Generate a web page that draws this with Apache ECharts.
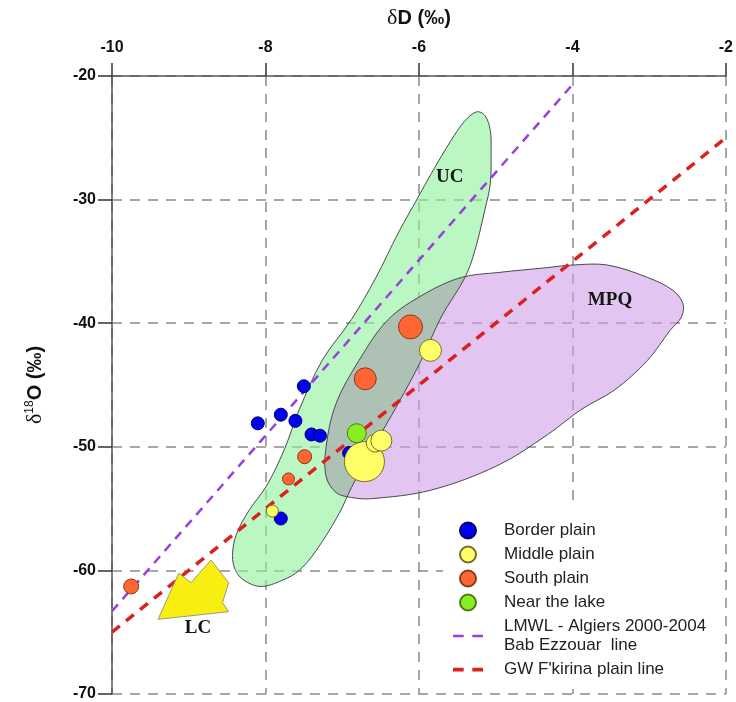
<!DOCTYPE html>
<html>
<head>
<meta charset="utf-8">
<script src="https://cdn.jsdelivr.net/npm/echarts@6/dist/echarts.min.js"></script>
<style>
  html, body { margin: 0; padding: 0; background: #fff; }
  #chart { width: 736px; height: 702px; }
</style>
</head>
<body>
<div id="chart"></div>
<script>
// Sample groups: [δD, δ18O]
const borderPlain = [[-7.50, -45.1], [-7.80, -47.4], [-8.10, -48.1], [-7.61, -47.9],
                     [-7.40, -49.0], [-7.29, -49.1], [-6.91, -50.5], [-7.80, -55.8]];
const middlePlain = [[-5.85, -42.2], [-7.91, -55.2], [-6.71, -51.2], [-6.57, -49.7], [-6.49, -49.5]];
const southPlain  = [[-6.11, -40.3], [-6.70, -44.5], [-7.49, -50.8], [-7.70, -52.6], [-9.75, -61.3]];
const nearLake    = [[-6.81, -48.9]];

// Marker diameters (px) per sample
const borderSize = [13, 13, 13, 13, 13, 13, 13, 13];
const middleSize = [22, 12, 40, 18, 21];
const southSize  = [24, 22, 14, 12, 15];
const lakeSize   = [19];

// Reference lines (end points)
const lmwlLine = [[-10, -63.3], [-4, -20.7]];
const gwLine   = [[-10, -65.0], [-2, -25.0]];

// Region outlines (δD, δ18O)
const ucOutline = [[-5.25, -22.9], [-5.14, -23.2], [-5.07, -24.4], [-5.06, -26.0], [-5.07, -28.7],
  [-5.14, -30.8], [-5.27, -34.1], [-5.40, -36.3], [-5.71, -39.5], [-5.97, -43.0], [-6.27, -46.5],
  [-6.62, -50.3], [-6.88, -53.3], [-7.04, -55.4], [-7.34, -58.4], [-7.56, -60.0], [-7.78, -60.8],
  [-8.06, -61.3], [-8.28, -60.8], [-8.39, -60.0], [-8.43, -58.8], [-8.38, -57.1], [-8.21, -55.1],
  [-7.99, -53.2], [-7.76, -50.3], [-7.56, -47.0], [-7.26, -43.0], [-6.88, -39.7], [-6.56, -36.3],
  [-6.27, -32.7], [-6.01, -29.8], [-5.84, -27.9], [-5.58, -25.2], [-5.41, -23.7]];
const mpqOutline = [[-6.40, -39.7], [-5.92, -37.6], [-5.45, -36.3], [-4.97, -35.9], [-4.32, -35.5],
  [-4.02, -35.3], [-3.54, -35.3], [-3.02, -36.3], [-2.70, -37.3], [-2.56, -38.4], [-2.58, -39.5],
  [-2.73, -40.6], [-3.02, -43.0], [-3.45, -45.4], [-3.89, -47.0], [-4.32, -49.0], [-4.97, -51.5],
  [-5.84, -53.5], [-6.62, -54.2], [-6.88, -54.1], [-7.08, -53.7], [-7.21, -52.4], [-7.21, -50.0],
  [-7.08, -46.5], [-6.78, -43.0]];
const lcArrow = [[-9.40, -63.96], [-9.13, -60.23], [-8.97, -60.99], [-8.71, -59.16],
  [-8.48, -60.99], [-8.56, -62.61], [-8.48, -63.34]];

const regionLabels = [
  { text: 'UC',  at: [-5.60, -28.2] },
  { text: 'MPQ', at: [-3.51, -38.1] },
  { text: 'LC',  at: [-8.88, -64.7] }
];

const xTicks = { min: -10, max: -2, step: 2 };
const yTicks = { min: -70, max: -20, step: 10 };

const sans = 'Liberation Sans, Arial, sans-serif';
const serif = 'Liberation Serif, Times New Roman, serif';
const SMOOTH = 0.35;

// Both groundwater domains in one group: translucent fills, shared part tinted grey, outlines on top
function regionsItem(params, api) {
  const mpq = mpqOutline.map(p => api.coord(p));
  const uc = ucOutline.map(p => api.coord(p));
  const poly = (pts, style, extra) => Object.assign({
    type: 'polygon', shape: { points: pts, smooth: SMOOTH }, style: style
  }, extra || {});
  return {
    type: 'group',
    children: [
      poly(mpq, { fill: 'rgba(207,158,230,0.6)' }),
      poly(uc, { fill: 'rgba(142,242,155,0.6)' }),
      poly(mpq, { fill: 'rgba(172,186,178,0.8)' },
        { clipPath: { type: 'polygon', shape: { points: uc, smooth: SMOOTH } } }),
      poly(mpq, { fill: null, stroke: '#4a4a4a', lineWidth: 1 }),
      poly(uc, { fill: null, stroke: '#4a4a4a', lineWidth: 1 })
    ]
  };
}

function scatterSeries(name, data, sizes, color, border) {
  return {
    type: 'scatter', name: name, data: data, z: 6,
    symbol: 'circle',
    symbolSize: (v, p) => sizes[p.dataIndex],
    itemStyle: { color: color, borderColor: border, borderWidth: 1, opacity: 1 }
  };
}

const chart = echarts.init(document.getElementById('chart'), null, { renderer: 'canvas' });

const lmwlName = 'LMWL - Algiers 2000-2004\nBab Ezzouar  line';
const gwName = "GW F'kirina plain line";

chart.setOption({
  animation: false,
  backgroundColor: '#fff',
  grid: { left: 112, top: 76, width: 617, height: 618 },
  xAxis: {
    type: 'value', position: 'top',
    min: xTicks.min, max: xTicks.max, interval: xTicks.step,
    name: '{d|δ}{b|D (‰)}', nameLocation: 'middle', nameGap: 47,
    nameTextStyle: {
      rich: {
        d: { fontFamily: serif, fontSize: 22, color: '#111' },
        b: { fontFamily: sans, fontSize: 20, fontWeight: 'bold', color: '#111' }
      }
    },
    axisLine: { show: true, onZero: false, lineStyle: { color: '#555', width: 1.5 } },
    axisTick: { show: true, length: 13, lineStyle: { color: '#333', width: 1.5 } },
    axisLabel: { margin: 20, fontFamily: sans, fontSize: 16, fontWeight: 'bold', color: '#111' },
    splitLine: { show: true, lineStyle: { color: '#8a8a8a', width: 1.5, type: [10, 8] } }
  },
  yAxis: {
    type: 'value',
    min: yTicks.min, max: yTicks.max, interval: yTicks.step,
    name: '{d|δ}{s|18}{b|O (‰)}', nameLocation: 'middle', nameGap: 66,
    nameTextStyle: {
      rich: {
        d: { fontFamily: serif, fontSize: 22, color: '#111' },
        s: { fontFamily: sans, fontSize: 12, color: '#111', verticalAlign: 'top', padding: [0, 0, 9, 0] },
        b: { fontFamily: sans, fontSize: 20, fontWeight: 'bold', color: '#111' }
      }
    },
    axisLine: { show: true, onZero: false, lineStyle: { color: '#555', width: 1.5 } },
    axisTick: { show: true, length: 14, lineStyle: { color: '#333', width: 1.5 } },
    axisLabel: { margin: 16, fontFamily: sans, fontSize: 16, fontWeight: 'bold', color: '#111' },
    splitLine: { show: true, lineStyle: { color: '#8a8a8a', width: 1.5, type: [10, 8] } }
  },
  legend: {
    orient: 'vertical', left: 443, top: 507,
    backgroundColor: '#fff',
    padding: [14, 18, 10, 10],
    itemWidth: 30, itemHeight: 16, itemGap: 5,
    textStyle: { fontFamily: sans, fontSize: 17, color: '#222', lineHeight: 19, padding: [0, 0, 0, 16] },
    data: [
      { name: 'Border plain', icon: 'circle' },
      { name: 'Middle plain', icon: 'circle' },
      { name: 'South plain', icon: 'circle' },
      { name: 'Near the lake', icon: 'circle' },
      { name: lmwlName, icon: 'path://M0,0h10v2.5h-10z M18,0h10v2.5h-10z' },
      { name: gwName, icon: 'path://M0,0h10v3.5h-10z M18,0h10v3.5h-10z' }
    ]
  },
  series: [
    {
      type: 'custom', name: 'regions', coordinateSystem: 'cartesian2d', silent: true, z: 1,
      data: [mpqOutline[0]],
      renderItem: regionsItem
    },
    {
      type: 'line', name: lmwlName, data: lmwlLine, z: 3,
      symbol: 'none', silent: true,
      lineStyle: { color: '#9a3fdc', width: 2.5, type: [9, 7] },
      itemStyle: { color: '#9a3fdc' }
    },
    {
      type: 'line', name: gwName, data: gwLine, z: 3,
      symbol: 'none', silent: true,
      lineStyle: { color: '#dc2020', width: 3.5, type: [10, 8] },
      itemStyle: { color: '#dc2020' }
    },
    {
      type: 'custom', name: 'LC arrow', coordinateSystem: 'cartesian2d', silent: true, z: 4,
      data: [lcArrow[0]],
      renderItem: function (params, api) {
        return {
          type: 'polygon',
          shape: { points: lcArrow.map(p => api.coord(p)) },
          style: { fill: '#f8ee12', stroke: '#9a9a7a', lineWidth: 1 }
        };
      }
    },
    {
      type: 'custom', name: 'region labels', coordinateSystem: 'cartesian2d', silent: true, z: 5,
      data: regionLabels.map(r => r.at),
      renderItem: function (params, api) {
        const r = regionLabels[params.dataIndex];
        const pt = api.coord(r.at);
        return {
          type: 'text', x: pt[0], y: pt[1],
          style: { text: r.text, fill: '#151515', font: 'bold 19px ' + serif, align: 'center', verticalAlign: 'middle' }
        };
      }
    },
    scatterSeries('Border plain', borderPlain, borderSize, '#0000ee', '#00006a'),
    scatterSeries('Middle plain', middlePlain, middleSize, '#ffff66', '#7a6a2a'),
    scatterSeries('South plain', southPlain, southSize, '#ff6633', '#8a3a1a'),
    scatterSeries('Near the lake', nearLake, lakeSize, '#88ee22', '#4f7a10')
  ]
});
</script>
</body>
</html>
